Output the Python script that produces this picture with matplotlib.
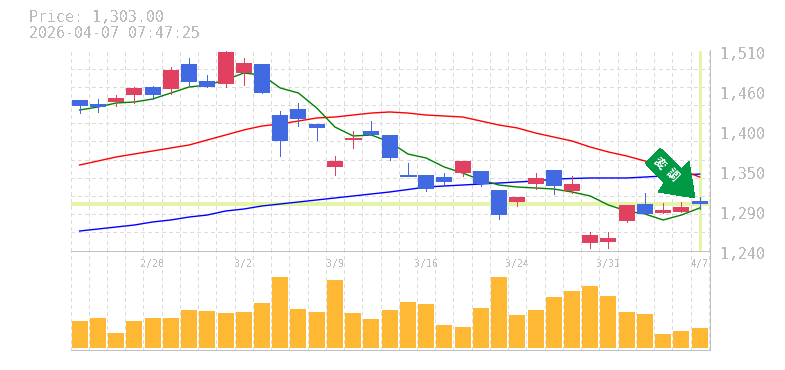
import matplotlib
matplotlib.use("Agg")
import matplotlib.pyplot as plt
import numpy as np
from matplotlib.patches import Polygon
from matplotlib.transforms import ScaledTranslation, Affine2D

plt.rcParams["text.antialiased"] = False
plt.rcParams["lines.antialiased"] = False
plt.rcParams["patch.antialiased"] = False

# ---- data ----
header_price = "Price: 1,303.00"
header_time = "2026-04-07 07:47:25"
last_price = 1303.0

opens = [1443.2, 1437.8, 1440.5, 1449.9, 1460.7, 1458.0, 1491.8, 1468.8, 1464.8, 1479.6,
         1491.8, 1423.0, 1431.0, 1410.8, 1352.7, 1391.1, 1401.3, 1395.9, 1341.9, 1341.9,
         1339.2, 1344.6, 1347.3, 1321.7, 1305.5, 1329.8, 1348.7, 1320.3, 1250.1, 1251.5,
         1279.8, 1302.8, 1290.6, 1291.9, 1306.8]
closes = [1435.1, 1433.7, 1445.9, 1459.4, 1449.9, 1483.7, 1467.5, 1460.7, 1508.0, 1493.1,
          1452.6, 1387.8, 1417.5, 1405.4, 1360.8, 1391.9, 1395.9, 1364.9, 1341.1, 1323.0,
          1332.5, 1360.8, 1329.8, 1287.9, 1312.2, 1337.9, 1327.1, 1329.8, 1260.9, 1256.9,
          1301.4, 1289.3, 1294.7, 1298.7, 1303.0]
highs = [1443.2, 1444.5, 1449.9, 1460.7, 1462.1, 1487.7, 1499.9, 1476.9, 1510.7, 1499.9,
         1491.8, 1428.3, 1439.1, 1410.8, 1367.6, 1401.3, 1414.8, 1395.9, 1358.1, 1341.9,
         1344.6, 1360.8, 1347.3, 1321.7, 1312.2, 1344.6, 1348.7, 1340.6, 1265.0, 1265.0,
         1301.4, 1317.6, 1304.1, 1305.5, 1312.2]
lows = [1426.0, 1427.0, 1435.1, 1439.5, 1444.5, 1451.3, 1463.4, 1460.7, 1460.7, 1463.4,
        1452.6, 1367.6, 1408.1, 1389.2, 1341.9, 1378.4, 1395.9, 1362.2, 1341.1, 1320.3,
        1329.8, 1340.6, 1327.1, 1282.5, 1300.1, 1323.0, 1316.3, 1317.6, 1243.4, 1243.4,
        1278.5, 1289.3, 1290.6, 1291.9, 1296.0]
ma_short = [1429.7, 1433.7, 1439.1, 1440.5, 1444.5, 1452.6, 1460.7, 1463.4, 1470.2, 1479.6,
            1476.9, 1459.4, 1452.6, 1432.4, 1406.7, 1394.6, 1395.9, 1386.5, 1370.3, 1364.9,
            1352.7, 1344.6, 1335.2, 1328.4, 1325.7, 1324.4, 1323.0, 1319.0, 1313.6, 1301.4,
            1293.3, 1289.3, 1281.2, 1287.9, 1297.4]
ma_mid = [1355.4, 1360.8, 1366.2, 1370.3, 1374.3, 1378.4, 1382.4, 1389.2, 1395.9, 1402.7,
          1408.1, 1410.8, 1414.8, 1418.9, 1420.2, 1422.9, 1425.6, 1427.0, 1425.6, 1422.9,
          1421.6, 1420.2, 1414.8, 1409.4, 1405.4, 1398.6, 1393.2, 1387.8, 1379.7, 1373.0,
          1367.6, 1360.8, 1355.4, 1348.7, 1339.2]
ma_long = [1266.3, 1269.0, 1271.7, 1274.4, 1278.5, 1281.2, 1285.2, 1287.9, 1293.3, 1296.0,
           1300.1, 1302.8, 1305.5, 1308.2, 1310.9, 1313.6, 1316.3, 1319.0, 1322.3, 1325.7,
           1327.1, 1328.4, 1329.8, 1331.1, 1332.5, 1333.8, 1336.5, 1337.2, 1337.9, 1337.9,
           1337.9, 1339.2, 1340.6, 1341.9, 1343.2]
volumes = [27, 30, 15, 27, 30, 30, 38, 37, 35, 36, 45, 71, 39, 36, 68, 35, 29, 38,
           46, 44, 23, 21, 40, 71, 33, 38, 51, 57, 62, 52, 36, 34, 14, 17, 20]
price_ticks = [1510, 1456, 1402, 1348, 1294, 1240]
price_labels = ["1,510", "1,460", "1,400", "1,350", "1,290", "1,240"]
date_idx = [4, 9, 14, 19, 24, 29, 34]
date_labels = ["2/20", "3/2", "3/9", "3/16", "3/24", "3/31", "4/7"]
badge_text = "変調"

# ---- styles ----
W, H = 785, 370
BLUE, RED = "#4169e1", "#e24060"
GRID, FRAME, TXT = "#dcdcdc", "#c0c0c0", "#bbbbbb"
HILITE = "#e4f5a8"
MONO = "DejaVu Sans Mono"
PX = 72 / 100  # points per pixel
DASH = (0, (3, 3))

fig = plt.figure(figsize=(W / 100, H / 100), dpi=100, facecolor="white")
L, R = 70.5, 709.5
def axes_px(top, bottom):
    return fig.add_axes([L / W, 1 - bottom / H, (R - L) / W, (bottom - top) / H])

ax = axes_px(50.5, 250.5)
av = axes_px(250.5, 350)

n = len(opens)
x = np.arange(n)
xlim = (-0.5, 34.54)
bw = 16 / 18.235

for a in (ax, av):
    a.set_xlim(*xlim)
    a.set_xticks(np.arange(n + 1) - 0.5, minor=True)
    a.grid(True, which="minor", axis="x", color=GRID, lw=PX, ls=DASH, zorder=0)
    a.grid(False, which="major")
    a.set_axisbelow(True)
    a.tick_params(which="both", length=0)
    for s in a.spines.values():
        s.set_color(FRAME)
        s.set_linewidth(PX)
    a.spines["left"].set_visible(False)

# ---- price panel ----
ax.set_ylim(1240, 1510)
ax.spines["top"].set_visible(False)
ax.spines["bottom"].set_visible(False)
ax.set_yticks(np.linspace(1240, 1510, 12), minor=True)
ax.grid(True, which="minor", axis="y", color=GRID, lw=PX, ls=DASH, zorder=0)
ax.yaxis.tick_right()
ax.set_yticks(price_ticks)
ax.set_yticklabels(price_labels, family=MONO, fontsize=10.76, color=TXT)
ax.tick_params(axis="y", which="major", pad=7.5)
for lab in ax.get_yticklabels():
    lab.set_transform(lab.get_transform() + ScaledTranslation(0, -3 / 100, fig.dpi_scale_trans))
ax.set_xticks([])

ax.axhline(last_price, color=HILITE, lw=3.5 * PX, zorder=1.5)
ax.axvline(x[-1], color=HILITE, lw=3 * PX, zorder=1.5)

o, c = np.array(opens), np.array(closes)
colors = [RED if cc > oo else BLUE for oo, cc in zip(o, c)]
thin = [0.4 if abs(cc - oo) < 2 else 0 for oo, cc in zip(o, c)]
ax.vlines(x, lows, highs, colors=colors, lw=0.5, zorder=3, antialiased=False)
ax.bar(x, np.abs(c - o), width=bw, bottom=np.minimum(o, c), color=colors,
       edgecolor=colors, linewidth=thin, zorder=3.5)

ax.plot(x, ma_long, color="#0000ff", lw=1.0, antialiased=True, zorder=2.5)
ax.plot(x, ma_mid, color="#ff0000", lw=1.0, antialiased=True, zorder=2.5)
ax.plot(x, ma_short, color="#008000", lw=1.0, antialiased=True, zorder=2.5)

# ---- volume panel ----
av.set_ylim(-2, 97.5)
av.bar(x, volumes, width=bw, color="#ffb833", zorder=3)
av.set_yticks([])
av.set_xticks(date_idx)
av.set_xticklabels(date_labels, family=MONO, fontsize=7.2, color=TXT)
av.tick_params(axis="x", which="major", top=False, bottom=False, labeltop=True,
               labelbottom=False, pad=-13)

# ---- header ----
fig.text(29 / W, 1 - 18 / H, header_price, family=MONO, fontsize=10.76, color=TXT, va="center")
fig.text(29 / W, 1 - 33 / H, header_time, family=MONO, fontsize=10.76, color=TXT, va="center")

# ---- badge arrow (figure pixel space, y measured from the top) ----
to_fig = Affine2D().scale(1 / W, -1 / H).translate(0, 1) + fig.transFigure
arrow = [(660, 148), (645, 163), (664, 183), (658, 192), (695, 198), (689, 161), (682, 169)]
fig.add_artist(Polygon(arrow, closed=True, facecolor="#009944", edgecolor="none",
                       transform=to_fig, zorder=6))
for ch, (px, py) in zip(badge_text, [(660, 163), (672, 175)]):
    fig.text(px / W, 1 - py / H, ch, family=["Noto Sans CJK JP", "DejaVu Sans"], fontsize=8.5,
             fontweight="bold", color="white", rotation=-45, ha="center", va="center",
             rotation_mode="anchor", zorder=7)

fig.savefig("out.png", dpi=100, facecolor="white")
